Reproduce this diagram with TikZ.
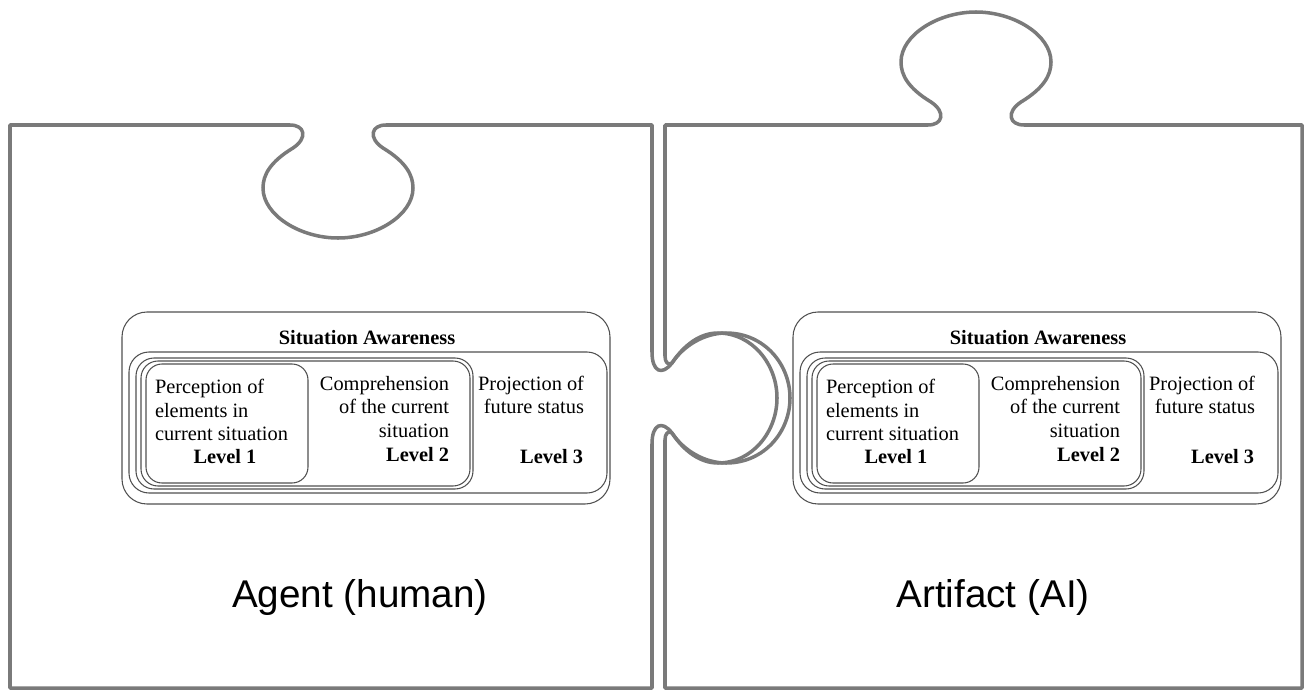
\documentclass[tikz,border=0pt]{standalone}
\usepackage{fontspec}
\setmainfont{Liberation Serif}
\newfontfamily\piecefont{Liberation Sans}
\definecolor{piecegray}{RGB}{122,122,122}
\definecolor{boxgray}{RGB}{80,80,80}

\begin{document}
\begin{tikzpicture}[x=0.02cm,y=-0.02cm,
  piece/.style={draw=piecegray, line width=2pt, line join=round},
  sabox/.style={draw=boxgray, line width=0.6pt},
  every node/.style={inner sep=0pt, outer sep=0pt, font=\fontsize{11.6}{13.2}\selectfont},
  satitle/.style={font=\fontsize{11.6}{13.2}\selectfont\bfseries},
  level/.style={font=\fontsize{11.6}{13.2}\selectfont\bfseries},
  piecename/.style={font=\piecefont\fontsize{22}{26}\selectfont}]

\useasboundingbox (0,0) rectangle (1306,690);

% left piece: hole on top, knob on the right
\draw[piece] (10,688) -- (10,125) -- (290,125)
  .. controls (305,125) and (308,138) .. (293,148)
  .. controls (270,162) and (263,175) .. (263,188)
  .. controls (263,215) and (300,238) .. (338,238)
  .. controls (376,238) and (413,215) .. (413,188)
  .. controls (413,175) and (406,162) .. (383,148)
  .. controls (368,138) and (371,125) .. (386,125)
  -- (652,125) -- (652,352)
  .. controls (652,372) and (662,376) .. (672,363)
  .. controls (684,345) and (700,333) .. (718,333)
  .. controls (752,333) and (777,364) .. (777,398)
  .. controls (777,432) and (752,463) .. (718,463)
  .. controls (700,463) and (684,451) .. (672,433)
  .. controls (662,420) and (652,424) .. (652,444)
  -- (652,688) -- cycle;

% right piece: hole on the left, knob on top
\draw[piece] (665,125) -- (665,356)
  .. controls (665,362) and (668,366) .. (672,363)
  .. controls (684,345) and (705,333) .. (726,333)
  .. controls (764,333) and (790,364) .. (790,398)
  .. controls (790,432) and (764,463) .. (726,463)
  .. controls (705,463) and (684,451) .. (672,433)
  .. controls (668,430) and (665,434) .. (665,440)
  -- (665,688) -- (1302,688) -- (1302,125) -- (1024,125)
  .. controls (1009,125) and (1006,112) .. (1021,102)
  .. controls (1044,88) and (1051,75) .. (1051,62)
  .. controls (1051,35) and (1014,12) .. (976,12)
  .. controls (938,12) and (901,35) .. (901,62)
  .. controls (901,75) and (908,88) .. (931,102)
  .. controls (946,112) and (943,125) .. (928,125)
  -- cycle;

\node[piecename] (agent) at (360,597) {Agent (human)};
\node[piecename] (artifact) at (993,597) {Artifact (AI)};

% situation awareness, agent side
\draw[sabox, rounded corners=0.5cm] (122,312) rectangle (610,504);
\draw[sabox, rounded corners=0.4cm] (129,352) rectangle (607,493);
\draw[sabox, rounded corners=0.36cm] (136,358) rectangle (473,489);
\draw[sabox, rounded corners=0.34cm] (141,361) rectangle (470,486);
\draw[sabox, rounded corners=0.32cm] (146,364) rectangle (308,483);

\node[satitle] (saHum) at (367,338) {Situation Awareness};
\node[anchor=west, align=left] (percHum) at (155,410) {Perception of\\elements in\\current situation};
\node[level] (levoneHum) at (225,457) {Level 1};
\node[anchor=east, align=right] (compHum) at (449,407) {Comprehension\\of the current\\situation};
\node[level, anchor=east] (levtwoHum) at (449,455) {Level 2};
\node[anchor=east, align=right] (projHum) at (584,395) {Projection of\\future status};
\node[level, anchor=east] (levthreeHum) at (583,457) {Level 3};

% situation awareness, artifact side
\begin{scope}[shift={(671,0)}]
\draw[sabox, rounded corners=0.5cm] (122,312) rectangle (610,504);
\draw[sabox, rounded corners=0.4cm] (129,352) rectangle (607,493);
\draw[sabox, rounded corners=0.36cm] (136,358) rectangle (473,489);
\draw[sabox, rounded corners=0.34cm] (141,361) rectangle (470,486);
\draw[sabox, rounded corners=0.32cm] (146,364) rectangle (308,483);

\node[satitle] (saAI) at (367,338) {Situation Awareness};
\node[anchor=west, align=left] (percAI) at (155,410) {Perception of\\elements in\\current situation};
\node[level] (levoneAI) at (225,457) {Level 1};
\node[anchor=east, align=right] (compAI) at (449,407) {Comprehension\\of the current\\situation};
\node[level, anchor=east] (levtwoAI) at (449,455) {Level 2};
\node[anchor=east, align=right] (projAI) at (584,395) {Projection of\\future status};
\node[level, anchor=east] (levthreeAI) at (583,457) {Level 3};
\end{scope}
\end{tikzpicture}
\end{document}
